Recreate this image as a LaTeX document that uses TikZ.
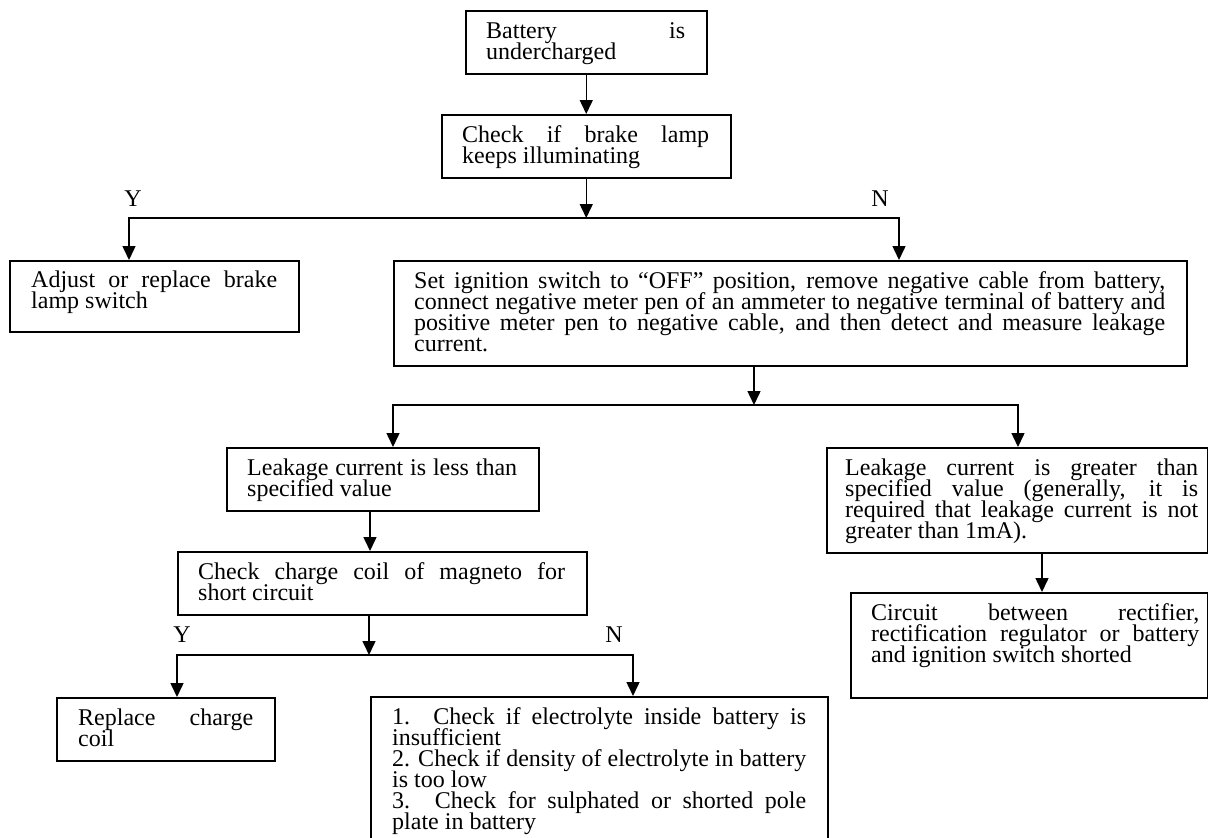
\documentclass[tikz,border=0pt]{standalone}
\usepackage{fontspec}
\setmainfont{Liberation Serif}
\usetikzlibrary{arrows.meta,calc}
\newcommand\JL[1]{\hbox to\hsize{#1}}
\newcommand\LL[1]{\hbox{#1}}
\newcommand\TB[2]{\parbox[t]{#1}{\lineskiplimit=-100pt\lineskip=0pt #2}}
\begin{document}
\begin{tikzpicture}[x=1pt,y=-1pt,
  box/.style={draw, line width=1.5pt, inner sep=0pt, anchor=north west},
  txt/.style={anchor=base west, inner sep=0pt, font=\fontsize{24pt}{21pt}\selectfont},
  lbl/.style={inner sep=0pt, font=\fontsize{24pt}{21pt}\selectfont},
  arr/.style={line width=1.5pt, -{Triangle[length=14pt,width=13pt]}}]
\useasboundingbox (0,0) rectangle (1208,838);
\clip (0,0) rectangle (1208,838);

% boxes
\node[box, minimum width=241pt, minimum height=63pt] (b1) at (465,10) {};
\node[box, minimum width=289pt, minimum height=63pt] (b2) at (441,114) {};
\node[box, minimum width=289pt, minimum height=71pt] (adj) at (9,260) {};
\node[box, minimum width=793pt, minimum height=105pt] (set) at (393,260) {};
\node[box, minimum width=312pt, minimum height=63pt] (less) at (226,447) {};
\node[box, minimum width=381pt, minimum height=105pt] (greater) at (826,447) {};
\node[box, minimum width=409pt, minimum height=63pt] (check) at (177,551) {};
\node[box, minimum width=357pt, minimum height=105pt] (circuit) at (850,592) {};
\node[box, minimum width=218pt, minimum height=63pt] (replace) at (56,697) {};
\node[box, minimum width=457pt, minimum height=150pt] (numbered) at (370,696) {};

% texts
\node[txt] (b1t) at ($(b1.north west)+(21,28)$) {\TB{199pt}{\JL{Battery is}\LL{undercharged}}};
\node[txt] (b2t) at ($(b2.north west)+(21,28)$) {\TB{247pt}{\JL{Check if brake lamp}\LL{keeps illuminating}}};
\node[txt] (adjt) at ($(adj.north west)+(22,27)$) {\TB{246pt}{\JL{Adjust or replace brake}\LL{lamp switch}}};
\node[txt] (sett) at ($(set.north west)+(21,28)$) {\TB{751pt}{%
  \JL{Set ignition switch to “OFF” position, remove negative cable from battery,}%
  \JL{connect negative meter pen of an ammeter to negative terminal of battery and}%
  \JL{positive meter pen to negative cable, and then detect and measure leakage}%
  \LL{current.}}};
\node[txt] (lesst) at ($(less.north west)+(21,28)$) {\TB{270pt}{\JL{Leakage current is less than}\LL{specified value}}};
\node[txt] (greatert) at ($(greater.north west)+(19,28)$) {\TB{353pt}{%
  \JL{Leakage current is greater than}%
  \JL{specified value (generally, it is}%
  \JL{required that leakage current is not}%
  \LL{greater than 1mA).}}};
\node[txt] (checkt) at ($(check.north west)+(21,28)$) {\TB{367pt}{\JL{Check charge coil of magneto for}\LL{short circuit}}};
\node[txt] (circuitt) at ($(circuit.north west)+(21,28)$) {\TB{328pt}{%
  \JL{Circuit between rectifier,}%
  \JL{rectification regulator or battery}%
  \LL{and ignition switch shorted}}};
\node[txt] (replacet) at ($(replace.north west)+(22,28)$) {\TB{175pt}{\JL{Replace charge}\LL{coil}}};
\node[txt] (numberedt) at ($(numbered.north west)+(22,28)$) {\TB{414pt}{%
  \JL{1. Check if electrolyte inside battery is}%
  \LL{insufficient}%
  \JL{2. Check if density of electrolyte in battery}%
  \LL{is too low}%
  \JL{3. Check for sulphated or shorted pole}%
  \LL{plate in battery}}};

% labels
\node[lbl] (y1) at (133,199) {Y};
\node[lbl] (n1) at (880,199) {N};
\node[lbl] (y2) at (182,635) {Y};
\node[lbl] (n2) at (614,635) {N};

% junction rows
\coordinate (r1) at (0,218);
\coordinate (r2) at (0,405);
\coordinate (r3) at (0,655);

% connectors
\draw[arr] (b1.south) -- (b2.north);
\draw[arr] (b2.south) -- (b2.south |- r1);
\draw[arr] (b2.south |- r1) -| ($(adj.north west)+(120,0)$);
\draw[arr] (b2.south |- r1) -| ($(set.north west)+(506,0)$);

\coordinate (s1) at ($(set.south west)+(361,0)$);
\draw[arr] (s1) -- (s1 |- r2);
\draw[arr] (s1 |- r2) -| ($(less.north west)+(167,0)$);
\draw[arr] (s1 |- r2) -| ($(greater.north west)+(192,0)$);

\coordinate (l1) at ($(less.south west)+(144,0)$);
\draw[arr] (l1) -- (l1 |- check.north);

\coordinate (c1) at ($(check.south west)+(192,0)$);
\draw[arr] (c1) -- (c1 |- r3);
\draw[arr] (c1 |- r3) -| ($(replace.north west)+(121,0)$);
\draw[arr] (c1 |- r3) -| ($(numbered.north west)+(263,0)$);

\coordinate (g1) at ($(greater.south west)+(216,0)$);
\draw[arr] (g1) -- (g1 |- circuit.north);
\end{tikzpicture}
\end{document}
